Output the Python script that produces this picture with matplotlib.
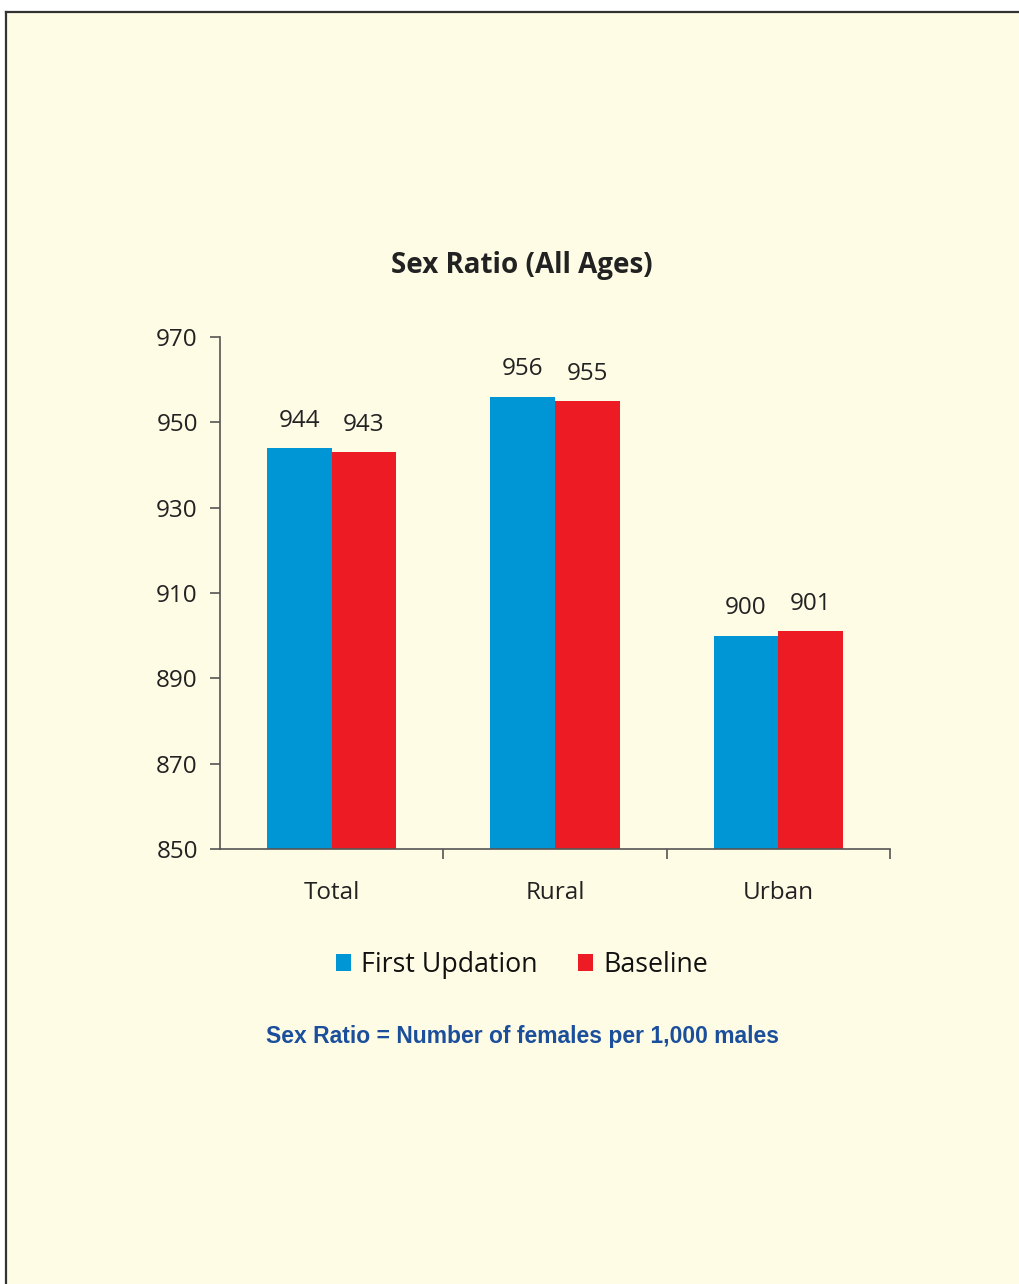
import numpy as np
import matplotlib.pyplot as plt
from matplotlib.patches import Rectangle
from matplotlib.lines import Line2D

# data
categories = ['Total', 'Rural', 'Urban']
first_updation = [944, 956, 900]
baseline = [943, 955, 901]
series_names = ['First Updation', 'Baseline']
y_ticks = [850, 870, 890, 910, 930, 950, 970]

blue = '#0096D6'
red = '#ED1C24'
bg = '#FFFCE6'
txt = '#222222'

plt.rcParams['font.family'] = ['Open Sans', 'DejaVu Sans']

fig = plt.figure(figsize=(10.2, 12.84), dpi=100)
fig.patch.set_facecolor('white')

# yellow page with black frame on top and left
W, H = 1020, 1284
fig.patches.append(Rectangle((6 / W, 0), 1.1, (H - 12) / H, transform=fig.transFigure,
                             facecolor=bg, edgecolor='none', zorder=-5))
fig.lines.append(Line2D([6 / W, 6 / W], [0, (H - 12) / H], transform=fig.transFigure,
                        color='#333333', lw=1.6, zorder=-4))
fig.lines.append(Line2D([6 / W, 1], [(H - 12) / H, (H - 12) / H], transform=fig.transFigure,
                        color='#333333', lw=1.6, zorder=-4))

ax = fig.add_axes([220 / W, 1 - 849 / H, 670 / W, 512 / H])
ax.set_facecolor('none')
ax.set_zorder(2)

barWidth = 0.29
x = np.arange(len(categories))
b1 = ax.bar(x - barWidth / 2, [v - 850 for v in first_updation], bottom=850,
            width=barWidth, color=blue, label=series_names[0])
b2 = ax.bar(x + barWidth / 2, [v - 850 for v in baseline], bottom=850,
            width=barWidth, color=red, label=series_names[1])

for bars, vals in [(b1, first_updation), (b2, baseline)]:
    for r, v in zip(bars, vals):
        ax.annotate(str(v), (r.get_x() + r.get_width() / 2, v), xytext=(0, 11),
                    textcoords='offset points', ha='center', va='bottom',
                    fontsize=17.5, color=txt)

ax.set_xlim(-0.5, 2.5)
ax.set_ylim(850, 970)
ax.set_yticks(y_ticks)
ax.tick_params(axis='y', labelsize=17.5, labelcolor=txt, length=7, width=1.2,
               color='#555555', pad=9)
ax.set_xticks([0.5, 1.5, 2.5])
ax.set_xticklabels([])
ax.tick_params(axis='x', length=7, width=1.2, color='#555555', direction='out')
for i, c in enumerate(categories):
    ax.text(i, -0.062, c, transform=ax.get_xaxis_transform(), ha='center', va='top',
            fontsize=17.5, color=txt)

for s in ['top', 'right']:
    ax.spines[s].set_visible(False)
for s in ['left', 'bottom']:
    ax.spines[s].set_color('#555555')
    ax.spines[s].set_linewidth(1.2)

fig.text(522 / W, 1 - 265 / H, 'Sex Ratio (All Ages)', ha='center', va='center',
         fontsize=20, fontweight='bold', color=txt)

leg = fig.legend(handles=[b1, b2], loc='center', bbox_to_anchor=(522 / W, 1 - 965 / H),
                 ncol=2, frameon=False, fontsize=19.3, handlelength=0.55, handleheight=0.55,
                 handletextpad=0.4, columnspacing=1.5)
for t in leg.get_texts():
    t.set_color('#111111')

fig.text(523 / W, 1 - 1036 / H, 'Sex Ratio = Number of females per 1,000 males',
         ha='center', va='center', fontsize=16.5, fontweight='bold', color='#1B4F9C',
         family=['Liberation Sans', 'DejaVu Sans'])

fig.savefig('out.png', dpi=100)
